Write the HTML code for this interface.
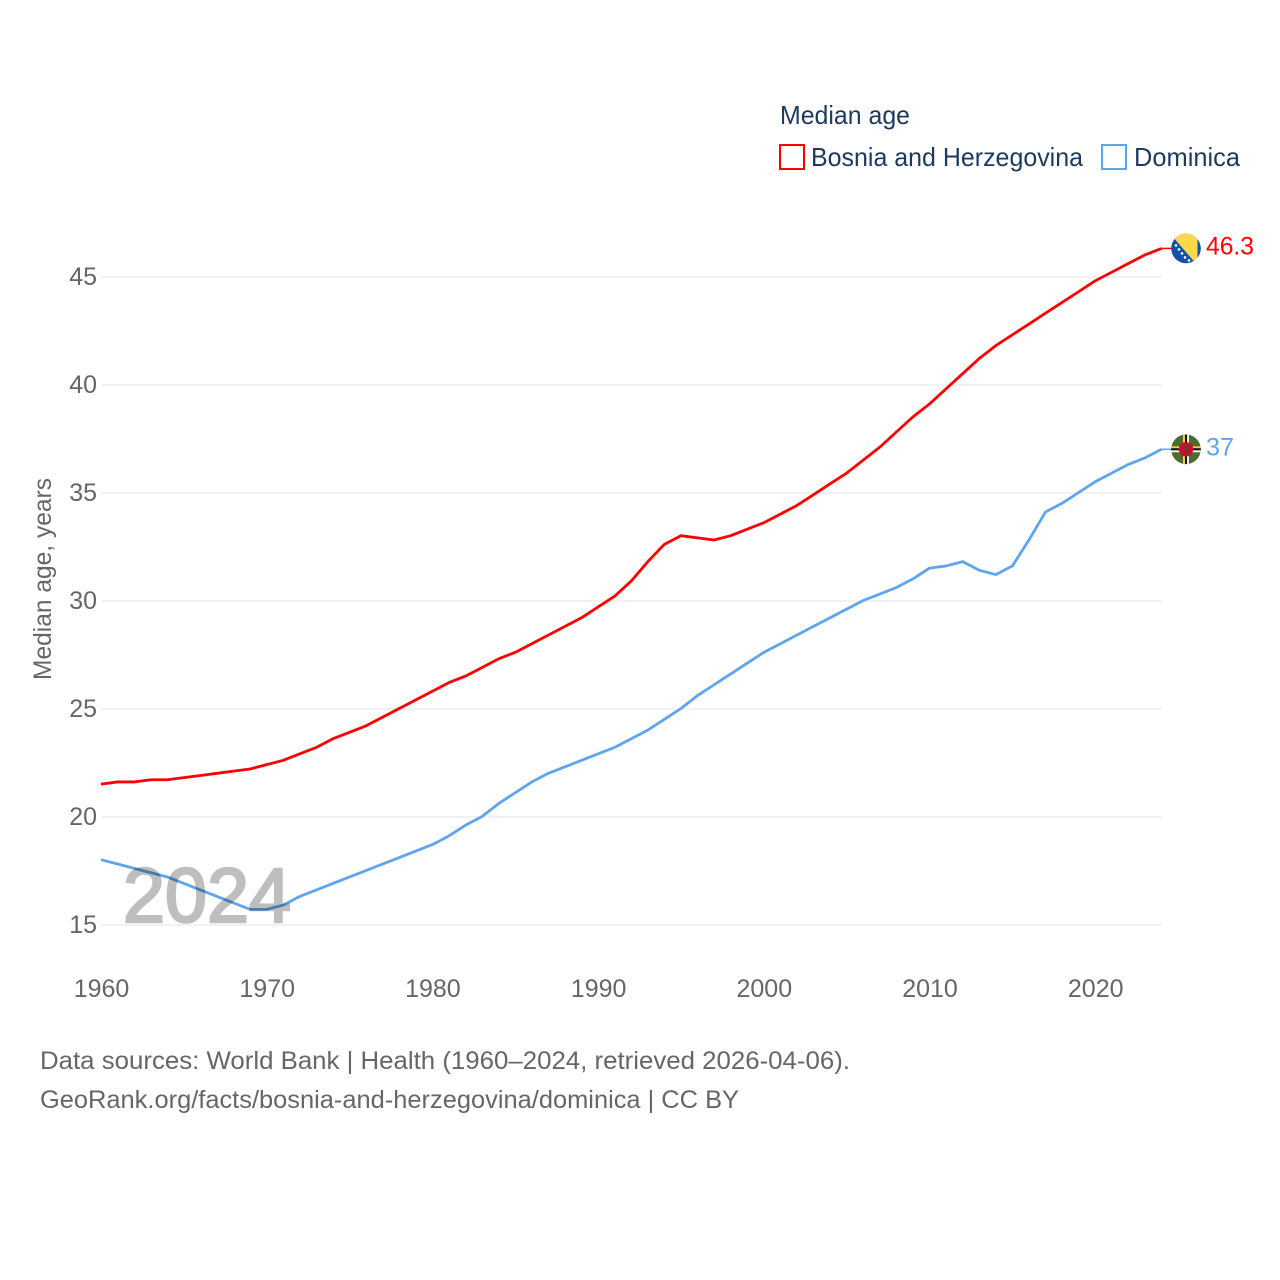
<!DOCTYPE html>
<html lang="en">
<head>
<meta charset="utf-8">
<title>Median age: Bosnia and Herzegovina and Dominica</title>
<style>
html,body{margin:0;padding:0;background:#fff;}
svg{display:block;}
text{font-family:"Liberation Sans",sans-serif;}
</style>
</head>
<body>
<svg id="chart" xmlns="http://www.w3.org/2000/svg" width="1280" height="1280" viewBox="0 0 1280 1280">
  <rect width="1280" height="1280" fill="#fff"/>
  <g id="grid"></g>
  <g id="yticks"></g>
  <g id="xticks"></g>
  <g id="series"></g>
  <text x="123" y="922" font-size="77" textLength="168" lengthAdjust="spacingAndGlyphs" fill="#000" stroke="#000" stroke-width="2.5" opacity="0.25">2024</text>
  <text transform="translate(51 680) rotate(-90)" font-size="25" fill="#666" textLength="202" lengthAdjust="spacingAndGlyphs">Median age, years</text>
  <g>
    <text x="780" y="124" font-size="26" fill="#1c3a5e" textLength="130" lengthAdjust="spacingAndGlyphs">Median age</text>
    <rect x="780" y="145" width="24" height="24" fill="#fff" stroke="#ff0000" stroke-width="2"/>
    <text x="811" y="166" font-size="26" fill="#1c3a5e" textLength="272" lengthAdjust="spacingAndGlyphs">Bosnia and Herzegovina</text>
    <rect x="1102" y="145" width="24" height="24" fill="#fff" stroke="#5ea5ee" stroke-width="2"/>
    <text x="1134" y="166" font-size="26" fill="#1c3a5e" textLength="106" lengthAdjust="spacingAndGlyphs">Dominica</text>
  </g>
  <defs>
    <clipPath id="flagClipBa"><circle cx="0" cy="0" r="14.8"/></clipPath>
    <clipPath id="flagClipDm"><circle cx="0" cy="0" r="14.8"/></clipPath>
  </defs>
  <g id="flagBa">
    <g clip-path="url(#flagClipBa)">
      <rect x="-16" y="-16" width="32" height="32" fill="#1450a8"/>
      <polygon points="-17,-16 11.5,-16 11.5,17" fill="#ffd84a"/>
      <g fill="#fff">
        <circle cx="-10" cy="-3" r="1.3"/><circle cx="-7" cy="1" r="1.3"/><circle cx="-4" cy="5" r="1.3"/><circle cx="-1" cy="9" r="1.3"/><circle cx="3" cy="12" r="1.3"/>
      </g>
    </g>
  </g>
  <g id="flagDm">
    <g clip-path="url(#flagClipDm)">
      <rect x="-16" y="-16" width="32" height="32" fill="#4c6b2c"/>
      <rect x="-16" y="-3" width="32" height="2" fill="#f0d040"/>
      <rect x="-16" y="-1" width="32" height="2" fill="#111"/>
      <rect x="-16" y="1" width="32" height="2" fill="#eee"/>
      <rect x="-3" y="-16" width="2" height="32" fill="#f0d040"/>
      <rect x="-1" y="-16" width="2" height="32" fill="#111"/>
      <rect x="1" y="-16" width="2" height="32" fill="#eee"/>
      <circle r="7.2" fill="#c8102e"/>
      <rect x="-1" y="-3.5" width="2" height="7" fill="#2b5a2b"/>
    </g>
  </g>
  <text id="labelBa" x="1206" y="255" font-size="25" fill="#ff0000" textLength="48" lengthAdjust="spacingAndGlyphs"></text>
  <text id="labelDm" x="1206" y="456" font-size="25" fill="#5ea5ee" textLength="28" lengthAdjust="spacingAndGlyphs"></text>
  <g>
    <text x="40" y="1069" font-size="25" fill="#666" textLength="810" lengthAdjust="spacingAndGlyphs">Data sources: World Bank | Health (1960–2024, retrieved 2026-04-06).</text>
    <text x="40" y="1108" font-size="25" fill="#666" textLength="699" lengthAdjust="spacingAndGlyphs">GeoRank.org/facts/bosnia-and-herzegovina/dominica | CC BY</text>
  </g>
</svg>
<script>
const startYear = 1960;
const yTickValues = [15, 20, 25, 30, 35, 40, 45];
const xTickValues = [1960, 1970, 1980, 1990, 2000, 2010, 2020];
const bosniaValues = [21.5,21.6,21.6,21.7,21.7,21.8,21.9,22.0,22.1,22.2,22.4,22.6,22.9,23.2,23.6,23.9,24.2,24.6,25.0,25.4,25.8,26.2,26.5,26.9,27.3,27.6,28.0,28.4,28.8,29.2,29.7,30.2,30.9,31.8,32.6,33.0,32.9,32.8,33.0,33.3,33.6,34.0,34.4,34.9,35.4,35.9,36.5,37.1,37.8,38.5,39.1,39.8,40.5,41.2,41.8,42.3,42.8,43.3,43.8,44.3,44.8,45.2,45.6,46.0,46.3];
const dominicaValues = [18.0,17.8,17.6,17.4,17.2,16.9,16.6,16.3,16.0,15.7,15.7,15.9,16.3,16.6,16.9,17.2,17.5,17.8,18.1,18.4,18.7,19.1,19.6,20.0,20.6,21.1,21.6,22.0,22.3,22.6,22.9,23.2,23.6,24.0,24.5,25.0,25.6,26.1,26.6,27.1,27.6,28.0,28.4,28.8,29.2,29.6,30.0,30.3,30.6,31.0,31.5,31.6,31.8,31.4,31.2,31.6,32.8,34.1,34.5,35.0,35.5,35.9,36.3,36.6,37.0];

const NS = 'http://www.w3.org/2000/svg';
function xScale(year) { return 101 + (year - 1960) * (1161.5 - 101) / 64; }
function yScale(v) { return 925 - (v - 15) * (925 - 277) / 30; }
function make(tag, attrs) {
  const el = document.createElementNS(NS, tag);
  for (const k in attrs) el.setAttribute(k, attrs[k]);
  return el;
}
const gridG = document.getElementById('grid');
const yG = document.getElementById('yticks');
const xG = document.getElementById('xticks');
const seriesG = document.getElementById('series');

yTickValues.forEach(function (v) {
  const line = make('line', {x1: 101.5, x2: 1162, y1: yScale(v), y2: yScale(v), stroke: '#eeeeee', 'stroke-width': 1.5});
  
  
  gridG.appendChild(line);
  const t = make('text', {x: 97, y: yScale(v) + 8, 'text-anchor': 'end', 'font-size': 25, fill: '#666'});
  
  
  t.textContent = String(v);
  yG.appendChild(t);
});
xTickValues.forEach(function (yr) {
  const t = make('text', {x: xScale(yr) + 0.5, y: 997, 'text-anchor': 'middle', 'font-size': 25, fill: '#666'});
  
  
  t.textContent = String(yr);
  xG.appendChild(t);
});
function pathFor(values) {
  return values.map(function (v, i) {
    return (i ? 'L' : 'M') + xScale(startYear + i).toFixed(2) + ' ' + (yScale(v) - 0.5).toFixed(2);
  }).join(' ');
}
function drawSeries(values, color, name) {
  const p = make('path', {d: pathFor(values), fill: 'none', stroke: color, 'stroke-width': 2.8, 'stroke-linejoin': 'round'});
  
  
  seriesG.appendChild(p);
  const lastY = yScale(values[values.length - 1]) - 0.5;
  const c = make('line', {x1: 1161.5, x2: 1172, y1: lastY, y2: lastY, stroke: color, 'stroke-width': 1.5});
  
  
  seriesG.appendChild(c);
  return lastY;
}
const baY = drawSeries(bosniaValues, '#ff0000', 'bosnia-line');
const dmY = drawSeries(dominicaValues, '#5ea5ee', 'dominica-line');
document.getElementById('flagBa').setAttribute('transform', 'translate(1186 ' + baY + ')');
document.getElementById('flagDm').setAttribute('transform', 'translate(1186 ' + dmY + ')');
const labelBa = document.getElementById('labelBa');
labelBa.textContent = String(bosniaValues[bosniaValues.length - 1]);
labelBa.setAttribute('y', baY + 6);
const labelDm = document.getElementById('labelDm');
labelDm.textContent = String(dominicaValues[dominicaValues.length - 1]);
labelDm.setAttribute('y', dmY + 6);
</script>
</body>
</html>
